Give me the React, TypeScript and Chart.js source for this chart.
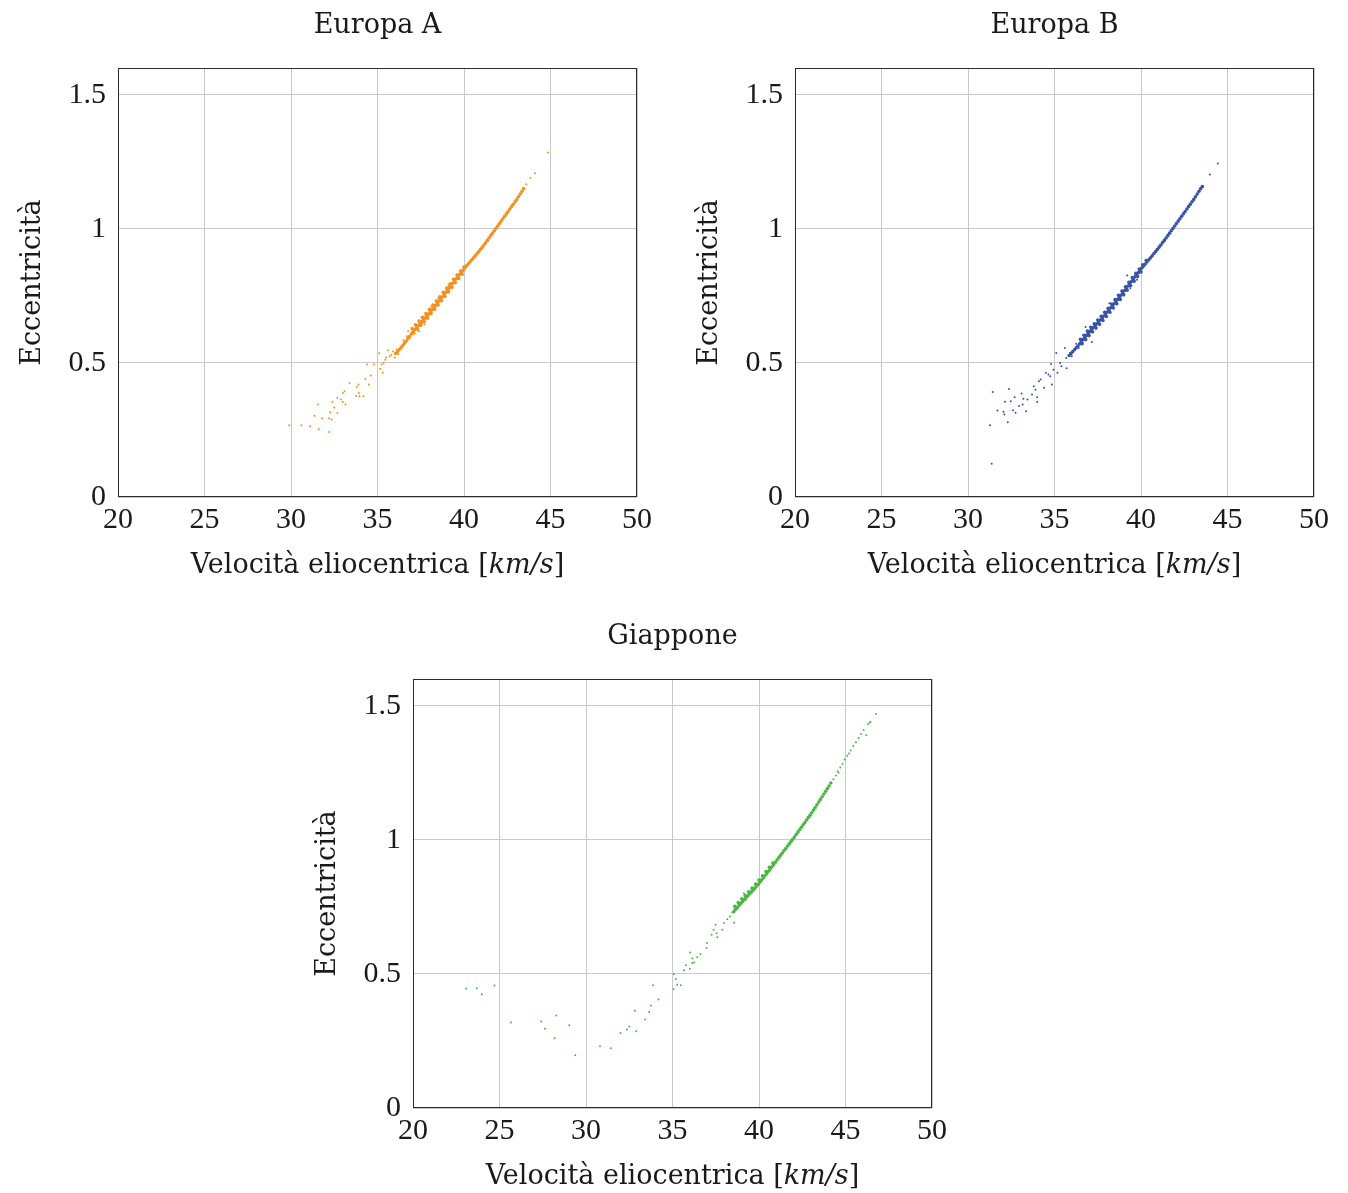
import React, { useEffect, useRef } from "react";
import { Chart, registerables } from "chart.js";

Chart.register(...registerables);

// ---------------- shared axes ----------------
const xTickValues = [20, 25, 30, 35, 40, 45, 50];
const yTickValues = [0, 0.5, 1, 1.5];
const xRange = [20, 50];
const yRange = [0, 1.6];

const chartTitles = ["Europa A", "Europa B", "Giappone"];
const yAxisTitle = "Eccentricità";
const xAxisTitleParts = ["Velocità eliocentrica [", "km/s", "]"];

// ---------------- Europa A ----------------
const europaAVelocity = [
  29.9, 30.6, 31.1, 31.6, 32.2, 31.35, 31.8, 32.2, 32.35, 31.56, 32.26, 32.68, 32.5, 32.4, 32.68, 32.9, 33.0, 33.15,
  33.0, 33.38, 33.1, 33.76, 33.92, 33.8, 33.9, 34.19, 33.96, 34.3, 34.5, 34.6, 34.4, 34.8, 35.1, 35.15, 35.25, 35.3,
  35.45, 35.6, 35.7, 35.9, 36.0, 36.2, 36.24, 36.47, 36.6, 36.8, 36.77, 36.95, 37.1, 37.2, 37.4, 37.5, 37.8, 37.7,
  35.35, 35.5, 35.8, 36.1, 36.35, 36.5, 36.7, 36.9, 37.0, 37.3, 37.55, 37.6, 37.9, 38.1, 38.3, 38.5, 38.7, 39.1,
  39.3, 39.6, 43.6, 43.84, 44.1, 44.86,
];
const europaAEccentricity = [
  0.268, 0.268, 0.264, 0.253, 0.242, 0.303, 0.294, 0.294, 0.289, 0.345, 0.316, 0.313, 0.334, 0.355, 0.37, 0.364, 0.354, 0.345,
  0.388, 0.424, 0.394, 0.378, 0.388, 0.41, 0.42, 0.376, 0.376, 0.44, 0.42, 0.453, 0.494, 0.494, 0.536, 0.478, 0.494, 0.463,
  0.512, 0.546, 0.525, 0.543, 0.519, 0.533, 0.55, 0.565, 0.58, 0.59, 0.618, 0.61, 0.624, 0.643, 0.618, 0.655, 0.673, 0.643,
  0.5, 0.52, 0.53, 0.55, 0.56, 0.585, 0.6, 0.595, 0.63, 0.64, 0.645, 0.665, 0.665, 0.71, 0.7, 0.74, 0.73, 0.79,
  0.78, 0.83, 1.166, 1.19, 1.207, 1.285,
];
const europaABandVelocity = [
  36.05, 36.15, 36.25, 36.35, 36.45, 36.55, 36.65, 36.75, 36.85, 36.95, 37.05, 37.15, 37.25, 37.35, 37.45, 37.55, 37.65,
  37.75, 37.85, 37.95, 38.05, 38.15, 38.25, 38.35, 38.45, 38.55, 38.65, 38.75, 38.85, 38.95, 39.05, 39.15, 39.25, 39.35,
  39.45, 39.55, 39.65, 39.75, 39.85, 39.95, 40.05, 40.15, 40.25, 40.35, 40.45, 40.55, 40.65, 40.75, 40.85, 40.95, 41.05,
  41.15, 41.25, 41.35, 41.45, 41.55, 41.65, 41.75, 41.85, 41.95, 42.05, 42.15, 42.25, 42.35, 42.45, 42.55, 42.65, 42.75,
  42.85, 42.95, 43.05, 43.15, 43.25, 43.35, 43.45,
  37.0, 37.2, 37.4, 37.6, 37.8, 38.0, 38.2, 38.4, 38.6, 38.8, 39.0, 39.2, 39.4, 39.6, 39.8, 40.0,
  37.1, 37.3, 37.5, 37.7, 37.9, 38.1, 38.3, 38.5, 38.7, 38.9, 39.1, 39.3, 39.5, 39.7, 39.9,
];
const europaABandEccentricity = [
  0.535, 0.542, 0.549, 0.556, 0.564, 0.573, 0.581, 0.59, 0.598, 0.608, 0.616, 0.624, 0.632, 0.639, 0.646, 0.653, 0.66,
  0.667, 0.675, 0.682, 0.69, 0.698, 0.706, 0.714, 0.722, 0.73, 0.738, 0.746, 0.754, 0.763, 0.771, 0.78, 0.788, 0.797,
  0.806, 0.814, 0.822, 0.83, 0.838, 0.846, 0.854, 0.862, 0.87, 0.877, 0.885, 0.892, 0.9, 0.907, 0.915, 0.923, 0.931,
  0.94, 0.948, 0.957, 0.966, 0.975, 0.984, 0.993, 1.002, 1.011, 1.02, 1.029, 1.038, 1.047, 1.056, 1.065, 1.074, 1.083,
  1.092, 1.101, 1.11, 1.12, 1.13, 1.14, 1.15,
  0.628, 0.642, 0.656, 0.67, 0.684, 0.7, 0.716, 0.731, 0.747, 0.763, 0.779, 0.795, 0.812, 0.828, 0.843, 0.858,
  0.612, 0.626, 0.64, 0.654, 0.668, 0.684, 0.7, 0.716, 0.732, 0.748, 0.765, 0.782, 0.799, 0.815, 0.831,
];

// ---------------- Europa B ----------------
const europaBVelocity = [
  31.37, 31.27, 31.43, 31.7, 32.05, 32.1, 32.3, 32.37, 32.14, 32.47, 32.6, 32.7, 32.75, 32.95, 33.1, 33.2, 33.16, 33.36,
  33.44, 33.7, 33.8, 33.9, 34.0, 34.0, 34.1, 34.2, 34.4, 34.5, 34.65, 34.75, 34.85, 34.8, 34.94, 35.1, 35.17, 35.33,
  35.4, 35.6, 35.7, 35.68, 35.9, 36.0, 36.25, 36.4, 36.6, 36.8, 36.87, 37.16, 37.06, 37.45, 37.84, 38.17, 38.2, 38.6,
  39.0, 39.2, 39.38, 39.77, 40.06, 43.98, 44.44,
];
const europaBEccentricity = [
  0.124, 0.268, 0.392, 0.323, 0.318, 0.308, 0.279, 0.403, 0.355, 0.357, 0.324, 0.372, 0.314, 0.339, 0.386, 0.366, 0.345, 0.32,
  0.364, 0.382, 0.413, 0.4, 0.354, 0.372, 0.432, 0.438, 0.407, 0.463, 0.457, 0.45, 0.42, 0.496, 0.475, 0.537, 0.463, 0.5,
  0.488, 0.556, 0.48, 0.518, 0.537, 0.525, 0.572, 0.556, 0.587, 0.634, 0.6, 0.578, 0.618, 0.649, 0.674, 0.723, 0.692, 0.723,
  0.754, 0.826, 0.779, 0.81, 0.857, 1.203, 1.244,
];
const europaBBandVelocity = [
  35.85, 35.95, 36.05, 36.15, 36.25, 36.35, 36.45, 36.55, 36.65, 36.75, 36.85, 36.95, 37.05, 37.15, 37.25, 37.35, 37.45,
  37.55, 37.65, 37.75, 37.85, 37.95, 38.05, 38.15, 38.25, 38.35, 38.45, 38.55, 38.65, 38.75, 38.85, 38.95, 39.05, 39.15,
  39.25, 39.35, 39.45, 39.55, 39.65, 39.75, 39.85, 39.95, 40.05, 40.15, 40.25, 40.35, 40.45, 40.55, 40.65, 40.75, 40.85,
  40.95, 41.05, 41.15, 41.25, 41.35, 41.45, 41.55, 41.65, 41.75, 41.85, 41.95, 42.05, 42.15, 42.25, 42.35, 42.45, 42.55,
  42.65, 42.75, 42.85, 42.95, 43.05, 43.15, 43.25, 43.35, 43.45, 43.55,
  36.5, 36.7, 36.9, 37.1, 37.3, 37.5, 37.7, 37.9, 38.1, 38.3, 38.5, 38.7, 38.9, 39.1, 39.3, 39.5, 39.7, 39.9, 40.1, 40.3,
  36.6, 36.8, 37.0, 37.2, 37.4, 37.6, 37.8, 38.0, 38.2, 38.4, 38.6, 38.8, 39.0, 39.2, 39.4, 39.6, 39.8, 40.0,
];
const europaBBandEccentricity = [
  0.528, 0.535, 0.542, 0.549, 0.556, 0.563, 0.571, 0.579, 0.587, 0.595, 0.603, 0.611, 0.618, 0.625, 0.632, 0.639, 0.646,
  0.653, 0.66, 0.667, 0.675, 0.683, 0.69, 0.698, 0.706, 0.713, 0.721, 0.729, 0.737, 0.745, 0.753, 0.761, 0.77, 0.778,
  0.787, 0.795, 0.804, 0.812, 0.821, 0.829, 0.837, 0.846, 0.854, 0.862, 0.869, 0.877, 0.885, 0.892, 0.9, 0.908, 0.916,
  0.924, 0.932, 0.94, 0.949, 0.957, 0.966, 0.975, 0.984, 0.993, 1.002, 1.011, 1.02, 1.029, 1.038, 1.047, 1.056, 1.065,
  1.074, 1.083, 1.092, 1.101, 1.11, 1.12, 1.13, 1.14, 1.15, 1.158,
  0.588, 0.603, 0.619, 0.633, 0.646, 0.66, 0.674, 0.689, 0.704, 0.72, 0.736, 0.752, 0.768, 0.784, 0.801, 0.818, 0.834, 0.85, 0.866, 0.882,
  0.572, 0.587, 0.602, 0.616, 0.63, 0.644, 0.658, 0.673, 0.689, 0.705, 0.721, 0.737, 0.754, 0.771, 0.788, 0.805, 0.822, 0.839,
];

// ---------------- Giappone ----------------
const giapponeVelocity = [
  23.07, 23.69, 23.98, 24.71, 25.66, 27.41, 27.63, 28.28, 28.19, 29.03, 29.38, 30.81, 31.43, 31.99, 32.37, 32.51, 32.9,
  32.82, 33.42, 33.65, 33.75, 33.88, 34.19, 35.06, 35.08, 35.19, 35.27, 35.48, 35.66, 35.77, 36.0, 36.02, 36.14, 36.25,
  36.15, 36.43, 36.62, 36.97, 36.99, 37.26, 37.37, 37.49, 37.55, 37.59, 37.88, 37.97, 38.17, 38.32, 38.46, 38.55, 38.75,
  38.94, 39.13, 39.23,
  44.3, 44.45, 44.54, 44.6, 44.7, 44.83, 44.95, 45.1, 45.2, 45.3, 45.45, 45.6, 45.75, 45.9, 46.05, 46.2, 46.3, 46.4, 46.45, 46.76,
];
const giapponeEccentricity = [
  0.446, 0.447, 0.424, 0.457, 0.319, 0.323, 0.296, 0.345, 0.26, 0.309, 0.197, 0.23, 0.223, 0.28, 0.293, 0.304, 0.286,
  0.363, 0.33, 0.358, 0.382, 0.458, 0.405, 0.443, 0.5, 0.481, 0.46, 0.458, 0.514, 0.532, 0.519, 0.58, 0.541, 0.543,
  0.558, 0.563, 0.574, 0.597, 0.615, 0.646, 0.665, 0.683, 0.652, 0.637, 0.665, 0.69, 0.704, 0.714, 0.729, 0.692, 0.745,
  0.764, 0.801, 0.776,
  1.226, 1.24, 1.256, 1.25, 1.27, 1.283, 1.3, 1.314, 1.322, 1.333, 1.35, 1.364, 1.38, 1.395, 1.41, 1.39, 1.432, 1.438, 1.44, 1.469,
];
const giapponeBandVelocity = [
  38.55, 38.65, 38.75, 38.85, 38.95, 39.05, 39.15, 39.25, 39.35, 39.45, 39.55, 39.65, 39.75, 39.85, 39.95, 40.05, 40.15,
  40.25, 40.35, 40.45, 40.55, 40.65, 40.75, 40.85, 40.95, 41.05, 41.15, 41.25, 41.35, 41.45, 41.55, 41.65, 41.75, 41.85,
  41.95, 42.05, 42.15, 42.25, 42.35, 42.45, 42.55, 42.65, 42.75, 42.85, 42.95, 43.05, 43.15, 43.25, 43.35, 43.45, 43.55,
  43.65, 43.75, 43.85, 43.95, 44.05, 44.15,
  38.6, 38.8, 39.0, 39.2, 39.4, 39.6, 39.8, 40.0, 40.2, 40.4, 40.6, 40.8,
];
const giapponeBandEccentricity = [
  0.733, 0.741, 0.748, 0.756, 0.763, 0.77, 0.777, 0.784, 0.791, 0.798, 0.805, 0.812, 0.819, 0.827, 0.834, 0.842, 0.85,
  0.858, 0.866, 0.875, 0.883, 0.891, 0.9, 0.908, 0.917, 0.926, 0.934, 0.943, 0.951, 0.96, 0.968, 0.977, 0.985, 0.994,
  1.002, 1.011, 1.02, 1.029, 1.038, 1.047, 1.056, 1.065, 1.074, 1.083, 1.092, 1.101, 1.111, 1.121, 1.131, 1.141, 1.151,
  1.161, 1.171, 1.181, 1.191, 1.201, 1.212,
  0.752, 0.766, 0.78, 0.792, 0.806, 0.82, 0.835, 0.85, 0.866, 0.882, 0.898, 0.914,
];

const seriesColors = ["rgb(242,145,32)", "rgb(56,84,166)", "rgb(76,182,68)"];

const TEXT = "#1a1a1a";
const LABEL_FONT = '27px "DejaVu Serif"';
const LABEL_FONT_IT = 'italic 27px "DejaVu Serif"';

function pairs(xs: number[], ys: number[]) {
  return xs.map((x, i) => ({ x, y: ys[i] }));
}

function makeDecor(title: string) {
  return {
    id: "decor",
    afterDatasetsDraw(chart: any) {
      const { ctx, chartArea: a } = chart;
      ctx.save();
      // frame
      ctx.strokeStyle = "#2b2b2b";
      ctx.lineWidth = 1;
      const l = Math.round(a.left) + 0.5;
      const t = Math.round(a.top) + 0.5;
      const r = Math.round(a.right) - 0.5;
      const b = Math.round(a.bottom) - 0.5;
      ctx.strokeRect(l, t, r - l, b - t);
      ctx.fillStyle = TEXT;
      // title
      ctx.font = LABEL_FONT;
      ctx.textAlign = "center";
      ctx.textBaseline = "alphabetic";
      ctx.fillText(title, (a.left + a.right) / 2, a.top - 35);
      // x title with italic unit
      const widths = xAxisTitleParts.map((p, i) => {
        ctx.font = i === 1 ? LABEL_FONT_IT : LABEL_FONT;
        return ctx.measureText(p).width;
      });
      const total = widths.reduce((s, w) => s + w, 0);
      let x = (a.left + a.right) / 2 - total / 2;
      ctx.textAlign = "left";
      xAxisTitleParts.forEach((p, i) => {
        ctx.font = i === 1 ? LABEL_FONT_IT : LABEL_FONT;
        ctx.fillText(p, x, a.bottom + 76);
        x += widths[i];
      });
      // y title
      ctx.font = LABEL_FONT;
      ctx.textAlign = "center";
      ctx.translate(a.left - 78, (a.top + a.bottom) / 2);
      ctx.rotate(-Math.PI / 2);
      ctx.fillText(yAxisTitle, 0, 0);
      ctx.restore();
    },
  };
}

type PanelProps = {
  title: string;
  color: string;
  vel: number[];
  ecc: number[];
  bandVel: number[];
  bandEcc: number[];
  left: number;
  top: number;
};

const W = 680;
const H = 582;

function Panel({ title, color, vel, ecc, bandVel, bandEcc, left, top }: PanelProps) {
  const ref = useRef<HTMLCanvasElement | null>(null);
  useEffect(() => {
    if (!ref.current) return;
    const tickFont = { family: '"Liberation Serif"', size: 30 };
    const chart = new Chart(ref.current, {
      type: "scatter",
      data: {
        datasets: [
          {
            data: pairs(bandVel, bandEcc),
            pointRadius: 1.8,
            pointBorderWidth: 0,
            pointBackgroundColor: color,
            pointBorderColor: color,
          },
          {
            data: pairs(vel, ecc),
            pointRadius: 1,
            pointBorderWidth: 0,
            pointBackgroundColor: color,
            pointBorderColor: color,
          },
        ],
      },
      options: {
        animation: false,
        responsive: false,
        events: [],
        layout: { padding: { top: 68, right: 43, left: 0, bottom: 0 } },
        plugins: { legend: { display: false }, tooltip: { enabled: false }, title: { display: false } },
        scales: {
          x: {
            type: "linear",
            min: xRange[0],
            max: xRange[1],
            afterBuildTicks: (s: any) => {
              s.ticks = xTickValues.map((v) => ({ value: v }));
            },
            afterFit: (s: any) => {
              s.height = H - 497;
            },
            grid: { color: "#c9c9c9", lineWidth: 1, drawTicks: false },
            border: { display: false },
            ticks: {
              font: tickFont,
              color: TEXT,
              padding: 5,
              maxRotation: 0,
              autoSkip: false,
              callback: (v: any) => String(v),
            },
          },
          y: {
            type: "linear",
            min: yRange[0],
            max: yRange[1],
            afterBuildTicks: (s: any) => {
              s.ticks = yTickValues.map((v) => ({ value: v }));
            },
            afterFit: (s: any) => {
              s.width = 118;
            },
            grid: { color: "#c9c9c9", lineWidth: 1, drawTicks: false },
            border: { display: false },
            ticks: {
              font: tickFont,
              color: TEXT,
              padding: 12,
              autoSkip: false,
              callback: (v: any) => String(v),
            },
          },
        },
      },
      plugins: [makeDecor(title)],
    } as any);
    return () => chart.destroy();
  }, [title, color, vel, ecc, bandVel, bandEcc]);
  return (
    <canvas
      ref={ref}
      width={W}
      height={H}
      style={{ position: "absolute", left, top, width: W, height: H }}
    />
  );
}

export default function App() {
  return (
    <div
      style={{
        position: "absolute",
        left: 0,
        top: 0,
        width: 1348,
        height: 1193,
        overflow: "hidden",
        background: "#ffffff",
      }}
    >
      <Panel
        title={chartTitles[0]}
        color={seriesColors[0]}
        vel={europaAVelocity}
        ecc={europaAEccentricity}
        bandVel={europaABandVelocity}
        bandEcc={europaABandEccentricity}
        left={0}
        top={0}
      />
      <Panel
        title={chartTitles[1]}
        color={seriesColors[1]}
        vel={europaBVelocity}
        ecc={europaBEccentricity}
        bandVel={europaBBandVelocity}
        bandEcc={europaBBandEccentricity}
        left={677}
        top={0}
      />
      <Panel
        title={chartTitles[2]}
        color={seriesColors[2]}
        vel={giapponeVelocity}
        ecc={giapponeEccentricity}
        bandVel={giapponeBandVelocity}
        bandEcc={giapponeBandEccentricity}
        left={295}
        top={611}
      />
    </div>
  );
}
